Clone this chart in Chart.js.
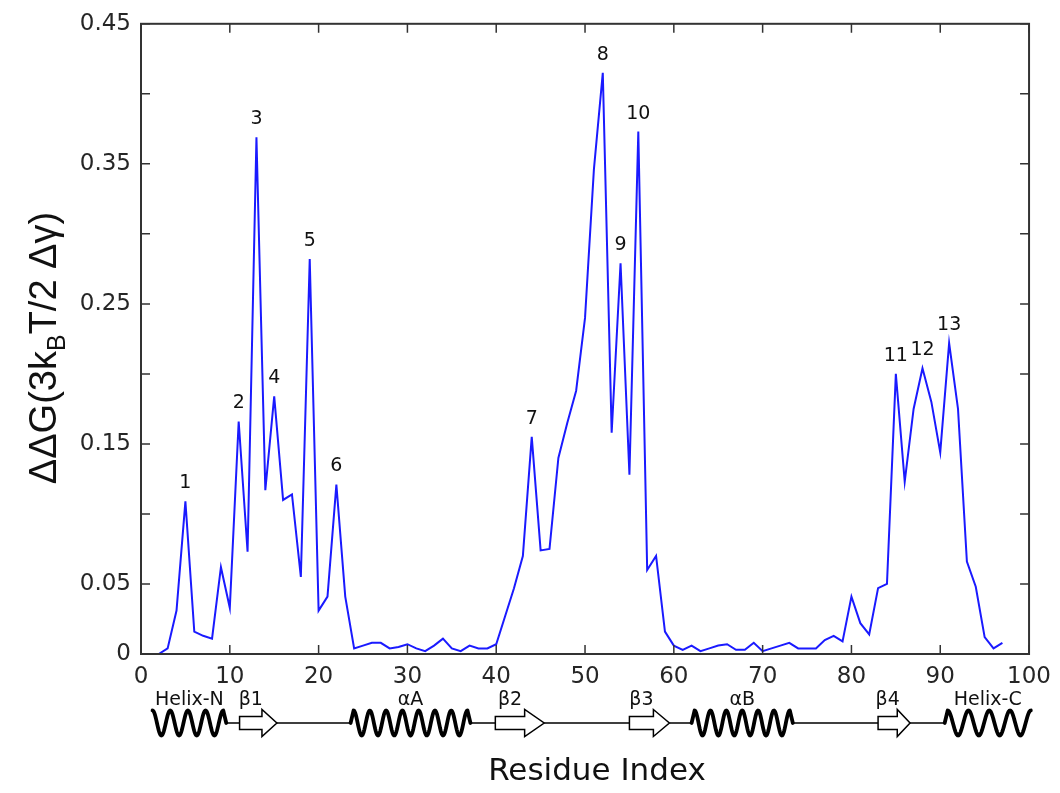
<!DOCTYPE html>
<html>
<head>
<meta charset="utf-8">
<script src="https://cdn.jsdelivr.net/npm/chart.js@4.4.1/dist/chart.umd.min.js"></script>
<style>
  html, body { margin: 0; padding: 0; background: #fff; }
  canvas { display: block; }
</style>
</head>
<body>
<canvas id="grafico" width="1060" height="793"></canvas>
<script>
// ---- data ----
const residues = [
  2, 3, 4, 5, 6, 7, 8, 9, 10, 11, 12, 13, 14, 15, 16, 17, 18, 19, 20, 21,
  22, 23, 24, 25, 26, 27, 28, 29, 30, 31, 32, 33, 34, 35, 36, 37, 38, 39, 40, 41,
  42, 43, 44, 45, 46, 47, 48, 49, 50, 51, 52, 53, 54, 55, 56, 57, 58, 59, 60, 61,
  62, 63, 64, 65, 66, 67, 68, 69, 70, 71, 72, 73, 74, 75, 76, 77, 78, 79, 80, 81,
  82, 83, 84, 85, 86, 87, 88, 89, 90, 91, 92, 93, 94, 95, 96, 97
];
const ddg = [
  0.000, 0.004, 0.031, 0.109, 0.016, 0.013, 0.011, 0.062, 0.033, 0.166,
  0.073, 0.369, 0.117, 0.184, 0.110, 0.114, 0.055, 0.282, 0.031, 0.041,
  0.121, 0.041, 0.004, 0.006, 0.008, 0.008, 0.004, 0.005, 0.007, 0.004,
  0.002, 0.006, 0.011, 0.004, 0.002, 0.006, 0.004, 0.004, 0.007, 0.027,
  0.047, 0.070, 0.155, 0.074, 0.075, 0.140, 0.165, 0.188, 0.240, 0.346,
  0.415, 0.158, 0.279, 0.128, 0.373, 0.060, 0.070, 0.016, 0.006, 0.003,
  0.006, 0.002, 0.004, 0.006, 0.007, 0.003, 0.003, 0.008, 0.002, 0.004,
  0.006, 0.008, 0.004, 0.004, 0.004, 0.010, 0.013, 0.009, 0.041, 0.022,
  0.014, 0.047, 0.050, 0.200, 0.123, 0.175, 0.204, 0.180, 0.144, 0.222,
  0.175, 0.066, 0.048, 0.012, 0.004, 0.008
];

// numbered peaks (residue of each labelled maximum)
const peakResidues = [5, 11, 13, 15, 19, 22, 44, 52, 54, 56, 85, 88, 91];

// ticks
const xTickValues = [0, 10, 20, 30, 40, 50, 60, 70, 80, 90, 100];
const xTickText = ['0', '10', '20', '30', '40', '50', '60', '70', '80', '90', '100'];
const yTickValues = [0, 0.05, 0.1, 0.15, 0.2, 0.25, 0.3, 0.35, 0.4, 0.45];
const yTickText = ['0', '0.05', '', '0.15', '', '0.25', '', '0.35', '', '0.45'];

// secondary structure track under the axis (residue ranges)
const ssKind = ['helix', 'strand', 'helix', 'strand', 'strand', 'helix', 'strand', 'helix'];
const ssLabel = ['Helix-N', 'β1', 'αA', 'β2', 'β3', 'αB', 'β4', 'Helix-C'];
const ssStart = [1.3, 11.1, 23.6, 39.9, 55.0, 62.0, 83.0, 90.5];
const ssEnd = [9.6, 15.3, 37.1, 45.4, 59.5, 73.4, 86.6, 100.2];
const ssTurns = [4, 0, 7, 0, 0, 6, 0, 4];

const FONT = '"DejaVu Sans", "Liberation Sans", Arial, sans-serif';
const SANS = '"Liberation Sans", Arial, sans-serif';
const TICK = 9;

// ---- custom drawing: box, inward ticks, peak numbers, titles, structure ----
const extrasPlugin = {
  id: 'extras',
  afterDraw(chart) {
    const { ctx, chartArea: a, scales: { x, y } } = chart;
    ctx.save();

    // box round the axes
    ctx.strokeStyle = '#333';
    ctx.lineWidth = 2;
    ctx.strokeRect(a.left, a.top, a.right - a.left, a.bottom - a.top);

    // ticks pointing inward, all four sides
    ctx.lineWidth = 1.5;
    ctx.beginPath();
    x.ticks.forEach(t => {
      const px = x.getPixelForValue(t.value);
      ctx.moveTo(px, a.bottom); ctx.lineTo(px, a.bottom - TICK);
      ctx.moveTo(px, a.top); ctx.lineTo(px, a.top + TICK);
    });
    y.ticks.forEach(t => {
      const py = y.getPixelForValue(t.value);
      ctx.moveTo(a.left, py); ctx.lineTo(a.left + TICK, py);
      ctx.moveTo(a.right, py); ctx.lineTo(a.right - TICK, py);
    });
    ctx.stroke();

    // peak numbers
    ctx.fillStyle = '#111';
    ctx.font = '19px ' + FONT;
    ctx.textAlign = 'center';
    ctx.textBaseline = 'middle';
    peakResidues.forEach((r, i) => {
      const v = ddg[residues.indexOf(r)];
      ctx.fillText(String(i + 1), x.getPixelForValue(r), y.getPixelForValue(v) - 18);
    });

    // x title
    ctx.font = '31px ' + FONT;
    ctx.textBaseline = 'alphabetic';
    ctx.fillText('Residue Index', 597, 780);

    // y title with subscript B
    ctx.save();
    ctx.translate(56, 348);
    ctx.rotate(-Math.PI / 2);
    const parts = [
      { t: 'ΔΔG(3k', size: 38, dy: 0 },
      { t: 'B', size: 25, dy: 9 },
      { t: 'T/2 Δγ)', size: 38, dy: 0 }
    ];
    let total = 0;
    parts.forEach(p => {
      ctx.font = p.size + 'px ' + SANS;
      p.w = ctx.measureText(p.t).width;
      total += p.w;
    });
    let cx = -total / 2;
    ctx.textAlign = 'left';
    parts.forEach(p => {
      ctx.font = p.size + 'px ' + SANS;
      ctx.fillText(p.t, cx, p.dy);
      cx += p.w;
    });
    ctx.restore();

    // secondary structure track
    const cy = 723;
    const amp = 12.5;
    ctx.strokeStyle = '#000';
    ctx.lineWidth = 1.5;
    ctx.beginPath();
    for (let i = 0; i < ssKind.length - 1; i++) {
      ctx.moveTo(x.getPixelForValue(ssEnd[i]), cy);
      ctx.lineTo(x.getPixelForValue(ssStart[i + 1]), cy);
    }
    ctx.stroke();

    ssKind.forEach((kind, i) => {
      const x0 = x.getPixelForValue(ssStart[i]);
      const x1 = x.getPixelForValue(ssEnd[i]);
      let labelX = (x0 + x1) / 2;
      if (kind === 'helix') {
        ctx.lineWidth = 3.8;
        ctx.lineJoin = 'round';
        ctx.lineCap = 'round';
        ctx.beginPath();
        if (i > 0) ctx.moveTo(x0, cy);
        const n = ssTurns[i];
        const start = i > 0 ? x0 + 3 : x0;
        const end = i < ssKind.length - 1 ? x1 - 3 : x1;
        for (let k = 0; k <= 200; k++) {
          const t = k / 200;
          const px = start + t * (end - start);
          const py = cy - amp * Math.cos(2 * Math.PI * n * t);
          if (k === 0 && i === 0) ctx.moveTo(px, py); else ctx.lineTo(px, py);
        }
        if (i < ssKind.length - 1) ctx.lineTo(x1, cy);
        ctx.stroke();
      } else {
        const hx = x0 + 0.6 * (x1 - x0);
        ctx.lineWidth = 1.5;
        ctx.lineJoin = 'miter';
        ctx.beginPath();
        ctx.moveTo(x0, cy - 6.5);
        ctx.lineTo(hx, cy - 6.5);
        ctx.lineTo(hx, cy - 13.5);
        ctx.lineTo(x1, cy);
        ctx.lineTo(hx, cy + 13.5);
        ctx.lineTo(hx, cy + 6.5);
        ctx.lineTo(x0, cy + 6.5);
        ctx.closePath();
        ctx.fillStyle = '#fff';
        ctx.fill();
        ctx.stroke();
        labelX = (x0 + hx) / 2;
      }
      ctx.fillStyle = '#111';
      ctx.font = '19px ' + FONT;
      ctx.textAlign = 'center';
      ctx.textBaseline = 'alphabetic';
      ctx.fillText(ssLabel[i], labelX, 705);
    });

    ctx.restore();
  }
};

new Chart(document.getElementById('grafico'), {
  type: 'line',
  data: {
    datasets: [{
      data: residues.map((r, i) => ({ x: r, y: ddg[i] })),
      borderColor: '#1a1aff',
      borderWidth: 2,
      pointRadius: 0,
      tension: 0,
      fill: false
    }]
  },
  options: {
    responsive: false,
    animation: false,
    devicePixelRatio: 1,
    layout: { padding: { left: 0, right: 25, top: 21, bottom: 0 } },
    plugins: { legend: { display: false }, tooltip: { enabled: false } },
    scales: {
      x: {
        type: 'linear',
        min: 0,
        max: 100,
        grid: { display: false, drawTicks: false },
        border: { display: false },
        afterBuildTicks: s => { s.ticks = xTickValues.map(v => ({ value: v })); },
        afterFit: s => { s.height = 139; },
        ticks: {
          callback: (v, i) => xTickText[i],
          font: { family: FONT, size: 23 },
          color: '#262626',
          padding: 9,
          maxRotation: 0,
          autoSkip: false
        }
      },
      y: {
        min: 0,
        max: 0.45,
        grid: { display: false, drawTicks: false },
        border: { display: false },
        afterBuildTicks: s => { s.ticks = yTickValues.map(v => ({ value: v })); },
        afterFit: s => { s.width = 141; },
        ticks: {
          callback: (v, i) => yTickText[i],
          font: { family: FONT, size: 23 },
          color: '#262626',
          padding: 10,
          autoSkip: false
        }
      }
    }
  },
  plugins: [extrasPlugin]
});
</script>
</body>
</html>
